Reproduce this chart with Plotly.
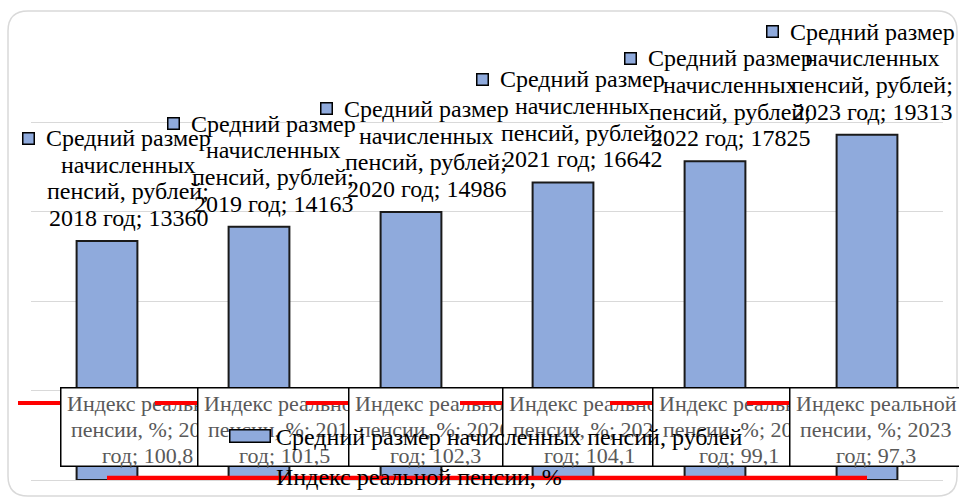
import plotly.graph_objects as go

# ---- data ----
years = ["2018 год", "2019 год", "2020 год", "2021 год", "2022 год", "2023 год"]
pension = [13360, 14163, 14986, 16642, 17825, 19313]
real_index = [100.8, 101.5, 102.3, 104.1, 99.1, 97.3]
bar_name = "Средний размер начисленных пенсий, рублей"
line_name = "Индекс реальной пенсии, %"
bar_label_lines = ["Средний размер", "начисленных", "пенсий, рублей;"]
line_label_lines = ["Индекс реальной", "пенсии, %;"]

# ---- style / layout constants ----
W, H = 959, 499
ML, MR, MT, MB = 31, 16, 33, 19
PW, PH = W - ML - MR, H - MT - MB
BLUE = "#8FAADC"
RED = "#FF0000"
SERIF = "Liberation Serif"
label_dx = [21, 14, 15, 19, 15, 5]     # pixel offsets of bar labels from bar centres
box_dx = [40, 25, 24, 26, 24, 9]       # pixel offsets of line labels from category centres
LSP = 26.7                              # label line spacing in px


def px_x(p):
    return (p - ML) / PW


def px_y(p):
    return (H - MB - p) / PH


fig = go.Figure()
fig.add_trace(go.Bar(
    x=years, y=pension, name=bar_name, width=0.4,
    marker=dict(color=BLUE, line=dict(color="#1a1a1a", width=2)),
))
fig.add_trace(go.Scatter(
    x=years, y=real_index, name=line_name, mode="lines",
    line=dict(color=RED, width=5),
))

ann = []
# bar data labels (with legend key squares)
for i, (yr, v) in enumerate(zip(years, pension)):
    lines = bar_label_lines + [f"{yr}; {v}"]
    ann.append(dict(x=yr, y=v, xref="x", yref="y", text=" ", showarrow=False,
                    xanchor="center", yanchor="middle",
                    width=10, height=10, borderpad=0, bgcolor=BLUE,
                    bordercolor="#000000", borderwidth=1.5,
                    xshift=label_dx[i] - 100, yshift=23 + 3 * LSP,
                    font=dict(size=1)))
    for k, t in enumerate(lines):
        ann.append(dict(x=yr, y=v, xref="x", yref="y", text=t, showarrow=False,
                        xanchor="center", yanchor="middle",
                        xshift=label_dx[i], yshift=23 + (3 - k) * LSP,
                        font=dict(family=SERIF, size=24, color="#000000")))

# line data labels (boxed, with red legend-key segments)
for i, (yr, r) in enumerate(zip(years, real_index)):
    lines = [line_label_lines[0], f"{line_label_lines[1]} {yr}".replace(" год", ""),
             "год; " + f"{r:.1f}".replace(".", ",")]
    ann.append(dict(x=yr, y=r, xref="x", yref="y", text=" ", showarrow=False,
                    xanchor="center", yanchor="middle",
                    width=42, height=4, borderpad=0, borderwidth=0, bgcolor=RED,
                    xshift=box_dx[i] - 108, yshift=75, font=dict(size=1)))
    ann.append(dict(x=yr, y=r, xref="x", yref="y", text=" ", showarrow=False,
                    width=171, height=77, borderpad=0, bgcolor="#FFFFFF",
                    bordercolor="#000000", borderwidth=1.5,
                    xanchor="center", yanchor="bottom",
                    xshift=box_dx[i], yshift=11, font=dict(size=1)))
    for k, t in enumerate(lines):
        ann.append(dict(x=yr, y=r, xref="x", yref="y", text=t, showarrow=False,
                        xanchor="center", yanchor="middle",
                        xshift=box_dx[i], yshift=75 - k * 26,
                        font=dict(family=SERIF, size=22, color="#595959")))

# legend (drawn manually so that it sits above the labels, as in the original)
ann.append(dict(x=px_x(250), y=px_y(436), xref="paper", yref="paper", text=" ",
                showarrow=False, xanchor="center", yanchor="middle",
                width=39, height=11, borderpad=0, bgcolor=BLUE,
                bordercolor="#000000", borderwidth=1.5, font=dict(size=1)))
ann.append(dict(x=px_x(274), y=px_y(437), xref="paper", yref="paper", text=bar_name,
                showarrow=False, xanchor="left", yanchor="middle",
                font=dict(family=SERIF, size=24, color="#000000")))
ann.append(dict(x=px_x(274), y=px_y(477), xref="paper", yref="paper", text=line_name,
                showarrow=False, xanchor="left", yanchor="middle",
                font=dict(family=SERIF, size=24, color="#000000")))

# rounded outer frame
x0, x1 = px_x(8), px_x(957)
yt, yb = px_y(11), px_y(496)
rx, ry = 20 / PW, 20 / PH
path = (f"M {x0+rx},{yt} L {x1-rx},{yt} Q {x1},{yt} {x1},{yt-ry} "
        f"L {x1},{yb+ry} Q {x1},{yb} {x1-rx},{yb} L {x0+rx},{yb} "
        f"Q {x0},{yb} {x0},{yb+ry} L {x0},{yt-ry} Q {x0},{yt} {x0+rx},{yt} Z")

fig.update_layout(
    width=W, height=H,
    margin=dict(l=ML, r=MR, t=MT, b=MB, pad=0),
    paper_bgcolor="#FFFFFF", plot_bgcolor="#FFFFFF",
    showlegend=False,
    annotations=ann,
    shapes=[dict(type="path", path=path, xref="paper", yref="paper",
                 line=dict(color="#D9D9D9", width=1.5), layer="below")],
    xaxis=dict(range=[-0.5, 5.5], showticklabels=False, showgrid=False,
               zeroline=False, showline=False, ticks=""),
    yaxis=dict(range=[0, 25000], dtick=5000, showticklabels=False,
               showgrid=True, gridcolor="#D9D9D9", gridwidth=1,
               zeroline=True, zerolinecolor="#D9D9D9", zerolinewidth=1,
               showline=False, ticks=""),
)

fig.write_html("out.html", config={"displayModeBar": False},
               post_script="document.body.style.margin='0';")
